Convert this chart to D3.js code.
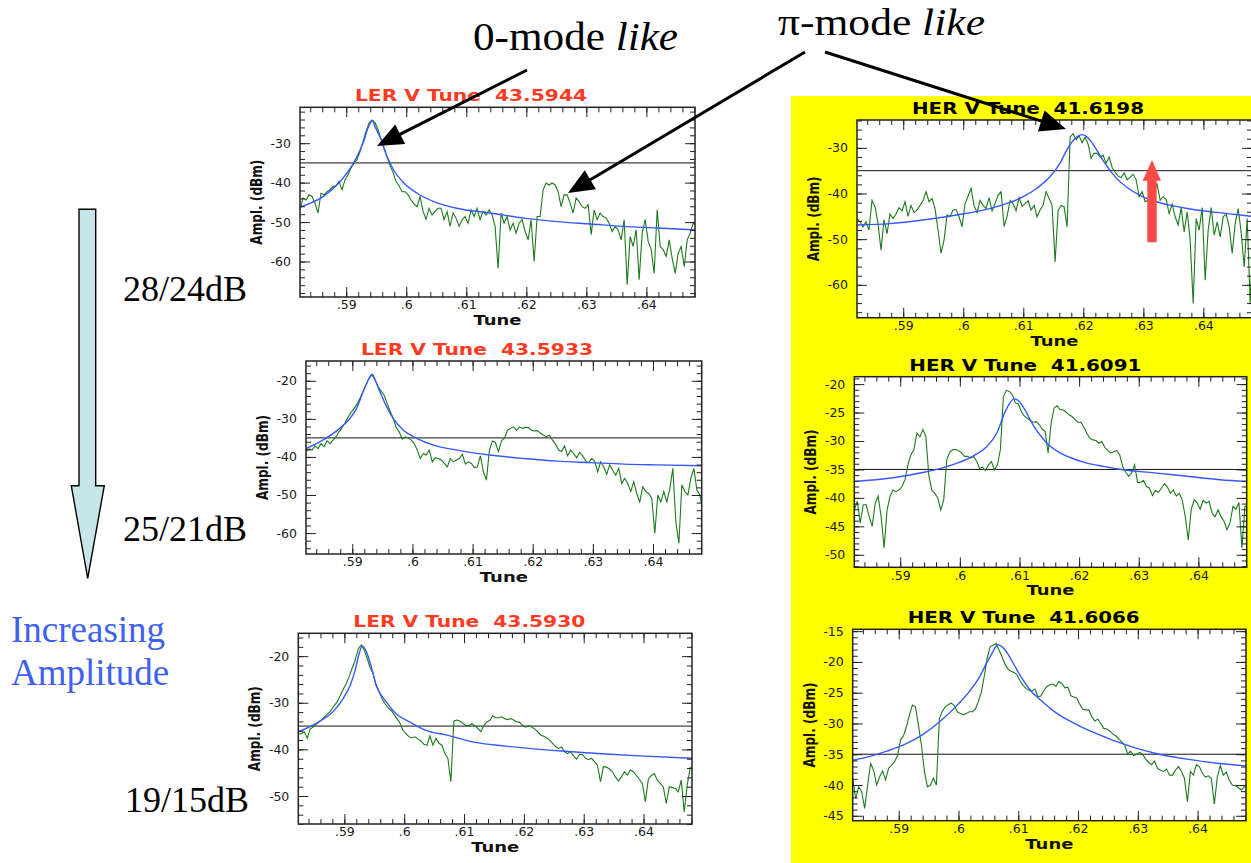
<!DOCTYPE html>
<html>
<head>
<meta charset="utf-8">
<script src="https://cdn.jsdelivr.net/npm/d3@7"></script>
<style>
  html, body { margin: 0; padding: 0; background: #fff; }
  svg { display: block; }
</style>
</head>
<body>
<svg id="fig" width="1251" height="863"></svg>
<script>
// ---- Spectrum analyser sweep: tune grid shared by every trace ----
const tuneStart = 0.5823;
const tuneStep = 0.0005;
const tracePoints = 133;
const tuneDomain = [0.5823, 0.6481];
const refLevel = -35;

// ---- Measured spectra (dBm), LER, three excitation levels ----
const ler1Db = [
  -46.9,-43.9,-44.4,-43.1,-43.5,-45.2,-47.7,-42.7,-43.1,-42.3,
  -41.8,-41.0,-40.8,-39.7,-41.8,-39.3,-38.0,-36.3,-35.1,-34.2,
  -32.1,-29.6,-27.0,-24.9,-24.1,-24.8,-26.6,-29.0,-31.3,-33.4,
  -35.7,-37.4,-39.7,-40.8,-42.3,-42.3,-43.1,-44.4,-45.4,-46.1,
  -43.5,-47.3,-49.3,-46.5,-48.2,-47.3,-46.5,-46.5,-49.4,-47.3,
  -51.1,-47.7,-49.0,-51.1,-49.4,-48.6,-50.3,-46.9,-48.6,-46.5,
  -49.4,-47.3,-48.2,-46.9,-48.2,-51.1,-61.7,-47.7,-50.3,-48.6,
  -52.0,-50.3,-52.8,-50.3,-49.4,-52.4,-54.5,-49.4,-60.0,-48.6,
  -48.6,-41.8,-40.1,-40.6,-40.1,-40.6,-42.3,-46.1,-43.1,-43.1,
  -45.2,-47.7,-43.9,-44.8,-46.1,-46.5,-45.6,-53.2,-46.9,-49.4,
  -47.7,-48.6,-49.0,-50.3,-52.4,-51.1,-52.0,-54.5,-49.4,-65.9,
  -53.7,-56.2,-52.0,-64.6,-52.8,-49.4,-54.9,-57.0,-63.0,-46.9,
  -56.2,-57.0,-58.7,-54.5,-59.2,-63.0,-57.9,-56.2,-61.3,-54.5,
  -52.8,-50.3,-50.7
];
const ler2Db = [
  -38.6,-37.9,-38.2,-37.1,-37.8,-36.5,-37.3,-35.8,-36.5,-35.6,
  -34.7,-33.4,-32.3,-31.0,-29.5,-28.3,-27.3,-26.0,-24.5,-22.7,
  -21.0,-19.2,-18.5,-19.8,-21.6,-22.7,-23.8,-26.0,-28.0,-29.9,
  -32.3,-33.4,-35.3,-34.7,-35.0,-35.6,-36.5,-38.2,-40.4,-39.1,
  -39.5,-38.2,-41.3,-40.2,-40.4,-40.8,-41.7,-42.6,-40.4,-41.3,
  -40.8,-40.4,-39.3,-41.9,-41.3,-41.7,-42.8,-42.6,-39.7,-43.9,
  -46.1,-38.2,-35.8,-36.2,-38.6,-35.8,-35.1,-33.0,-32.5,-32.1,
  -33.0,-32.1,-32.5,-32.2,-32.3,-33.0,-33.2,-33.1,-33.8,-34.3,
  -34.7,-34.3,-35.6,-36.7,-38.2,-38.6,-37.1,-39.7,-38.2,-39.1,
  -40.2,-38.8,-39.7,-41.1,-41.5,-40.4,-41.1,-43.9,-41.3,-42.6,
  -44.6,-42.1,-43.5,-44.8,-43.0,-47.0,-45.6,-47.0,-49.1,-46.5,
  -49.6,-51.8,-47.8,-49.1,-49.6,-50.9,-60.1,-50.0,-51.8,-49.1,
  -51.8,-48.3,-43.0,-57.0,-62.7,-47.4,-49.1,-50.0,-45.6,-43.0,
  -48.7,-50.0,-54.4
];
const ler3Db = [
  -36.8,-36.6,-36.2,-37.6,-35.6,-35.2,-34.6,-34.1,-33.5,-32.9,
  -32.3,-31.6,-30.6,-29.8,-28.5,-27.1,-25.9,-24.4,-22.6,-20.9,
  -18.5,-17.6,-18.7,-20.4,-22.5,-23.7,-26.2,-27.5,-29.2,-30.2,
  -31.1,-31.6,-32.5,-33.4,-34.4,-35.9,-36.6,-37.3,-37.5,-37.3,
  -37.8,-38.2,-38.9,-39.1,-37.1,-39.1,-37.6,-38.7,-39.1,-40.9,
  -41.9,-46.9,-33.9,-33.7,-33.9,-34.4,-34.9,-34.9,-34.5,-34.9,
  -35.5,-36.2,-34.9,-34.1,-33.8,-32.8,-33.2,-33.2,-33.0,-33.4,
  -33.6,-33.4,-33.7,-34.1,-34.2,-34.9,-35.2,-34.9,-35.2,-35.6,
  -36.2,-36.9,-37.2,-37.5,-38.0,-38.7,-39.4,-39.8,-39.5,-40.5,
  -40.9,-40.5,-41.4,-42.1,-41.1,-41.1,-41.9,-42.2,-41.9,-42.6,
  -43.4,-46.9,-43.7,-43.8,-44.2,-44.8,-45.9,-46.8,-45.9,-44.8,
  -45.5,-44.4,-44.8,-45.6,-46.4,-47.3,-51.2,-46.4,-45.6,-45.2,
  -46.6,-47.3,-48.0,-51.6,-48.0,-48.2,-48.4,-49.1,-46.6,-53.4,
  -47.6,-43.9,-43.7
];

// ---- Measured spectra (dBm), HER, three excitation levels ----
const her1Db = [
  -45.5,-46.2,-47.3,-46.2,-48.0,-41.5,-42.9,-46.6,-52.4,-45.7,
  -48.8,-44.5,-45.5,-44.5,-43.1,-43.8,-41.8,-45.0,-42.6,-44.2,
  -43.6,-42.6,-41.6,-39.6,-41.8,-41.1,-43.3,-48.0,-53.1,-50.2,
  -44.7,-45.1,-43.6,-43.5,-45.1,-47.3,-42.2,-40.6,-38.9,-42.6,
  -44.2,-41.5,-42.6,-43.3,-40.9,-43.8,-42.2,-40.4,-39.6,-47.2,
  -45.0,-41.5,-42.2,-43.8,-40.9,-42.8,-42.2,-41.6,-43.6,-42.6,
  -45.1,-43.6,-42.6,-39.6,-41.1,-42.6,-55.0,-43.8,-42.6,-42.9,
  -47.3,-27.6,-26.9,-28.2,-27.4,-28.9,-27.7,-29.2,-32.3,-31.2,
  -31.2,-32.0,-31.6,-33.4,-32.0,-34.3,-35.3,-36.2,-36.5,-35.5,
  -37.0,-36.4,-35.8,-37.0,-40.7,-39.6,-41.8,-41.5,-40.0,-39.1,
  -38.0,-41.5,-40.7,-41.3,-44.4,-42.3,-45.1,-46.9,-43.1,-48.4,
  -44.0,-50.2,-64.1,-45.5,-48.0,-43.1,-59.0,-48.0,-43.1,-49.1,
  -46.2,-49.5,-45.1,-44.5,-47.3,-53.1,-46.6,-43.3,-48.6,-56.1,
  -45.5,-64.1,-48.0
];
const her2Db = [
  -42.1,-40.6,-44.4,-41.2,-41.2,-43.3,-45.0,-41.0,-39.7,-43.3,
  -48.8,-42.1,-39.7,-38.6,-38.9,-38.6,-38.0,-36.8,-34.2,-32.4,
  -31.5,-28.6,-29.3,-28.0,-29.2,-36.1,-38.6,-39.2,-40.0,-42.1,
  -40.3,-33.3,-32.0,-31.5,-31.5,-31.7,-32.1,-32.7,-32.7,-33.0,
  -32.7,-33.5,-34.8,-34.6,-35.2,-34.2,-33.6,-35.1,-34.2,-31.5,
  -22.2,-21.1,-21.3,-21.9,-23.3,-23.5,-24.8,-25.6,-26.0,-26.4,
  -26.7,-26.6,-27.1,-27.9,-28.3,-32.1,-26.9,-24.2,-23.8,-24.5,
  -24.5,-24.9,-25.4,-25.7,-26.2,-26.7,-26.7,-27.6,-28.7,-29.5,
  -29.8,-29.9,-30.4,-30.1,-31.1,-31.7,-32.1,-31.9,-31.7,-32.4,
  -34.5,-35.5,-36.2,-35.6,-34.2,-37.3,-37.3,-36.9,-38.0,-38.3,
  -39.6,-38.7,-39.0,-38.3,-37.5,-38.1,-39.2,-38.6,-39.7,-39.2,
  -40.4,-43.3,-47.4,-42.0,-40.3,-40.9,-42.0,-40.4,-40.9,-40.6,
  -42.7,-43.3,-42.1,-43.3,-44.1,-45.6,-44.4,-41.5,-42.0,-40.8,
  -48.8,-41.5,-41.5
];
const her3Db = [
  -38.9,-42.2,-40.3,-41.1,-43.8,-40.0,-36.5,-37.6,-40.0,-38.7,
  -37.7,-39.2,-37.3,-36.8,-36.2,-35.2,-32.7,-32.0,-30.5,-28.6,
  -27.0,-27.3,-30.3,-33.5,-37.8,-40.3,-40.0,-38.9,-40.0,-29.2,
  -28.0,-27.3,-26.9,-26.7,-27.1,-28.1,-28.4,-28.6,-28.4,-28.1,
  -28.1,-27.7,-26.5,-25.0,-22.4,-19.4,-17.5,-17.3,-17.0,-18.1,
  -19.2,-20.4,-21.2,-21.5,-21.7,-22.1,-23.1,-23.8,-24.3,-24.6,
  -24.7,-24.4,-25.7,-25.5,-24.6,-24.0,-23.7,-23.6,-24.0,-23.2,
  -23.5,-24.2,-24.1,-25.5,-25.7,-25.9,-26.9,-27.7,-27.8,-27.8,
  -28.9,-29.6,-29.3,-30.0,-30.8,-30.9,-31.2,-31.7,-32.0,-32.5,
  -33.0,-33.5,-35.0,-34.5,-35.2,-35.0,-34.7,-35.0,-35.8,-36.3,
  -36.7,-36.1,-37.3,-37.6,-37.8,-37.4,-38.4,-38.4,-37.6,-37.0,
  -37.8,-38.9,-42.7,-37.8,-38.4,-36.7,-37.0,-38.1,-38.7,-38.5,
  -38.9,-43.1,-38.7,-36.8,-38.4,-37.9,-39.2,-40.0,-40.1,-40.4,
  -40.8,-40.3,-40.3
];

// ---- Resonance fits (tune, dBm) ----
const fit1Tune = [0.5823,0.5862,0.5890,0.5907,0.5918,0.5929,0.5937,0.5944,0.5948,0.5957,0.5968,0.5979,0.5996,0.6018,0.6046,0.6084,0.6140,0.6196,0.6251,0.6307,0.6362,0.6418,0.6481];
const fit1Db   = [-46.2,-43.5,-39.7,-36.3,-33.4,-29.6,-25.8,-24.4,-25.8,-28.7,-33.4,-36.8,-40.1,-42.7,-44.8,-46.5,-47.7,-49.0,-49.9,-50.5,-51.1,-51.5,-52.0];
const fit2Tune = [0.5823,0.5851,0.5879,0.5896,0.5907,0.5918,0.5928,0.5933,0.5938,0.5946,0.5957,0.5968,0.5985,0.6007,0.6035,0.6074,0.6129,0.6185,0.6241,0.6296,0.6352,0.6408,0.6481];
const fit2Db   = [-37.8,-35.6,-32.5,-29.9,-27.3,-22.9,-19.4,-18.3,-19.8,-22.9,-26.8,-29.9,-33.0,-35.1,-36.9,-38.2,-39.5,-40.4,-41.1,-41.5,-41.9,-42.1,-42.3];
const fit3Tune = [0.5823,0.5853,0.5881,0.5898,0.5910,0.5918,0.5924,0.5930,0.5937,0.5945,0.5953,0.5970,0.5986,0.6009,0.6036,0.6070,0.6114,0.6170,0.6226,0.6281,0.6337,0.6393,0.6481];
const fit3Db   = [-36.2,-34.4,-31.9,-29.1,-26.2,-23.0,-19.8,-17.8,-19.1,-22.3,-26.2,-29.8,-32.3,-34.1,-35.9,-36.9,-38.4,-39.3,-40.0,-40.5,-41.0,-41.4,-41.9];
const fit4Tune = [0.5823,0.5878,0.5933,0.5989,0.6044,0.6072,0.6100,0.6122,0.6144,0.6161,0.6172,0.6183,0.6192,0.6198,0.6206,0.6214,0.6222,0.6235,0.6252,0.6274,0.6296,0.6322,0.6350,0.6378,0.6433,0.6481];
const fit4Db   = [-46.9,-46.6,-45.8,-44.7,-43.3,-42.2,-40.7,-38.9,-36.4,-33.4,-30.6,-28.4,-27.4,-27.1,-27.6,-28.8,-30.4,-33.2,-36.2,-38.8,-40.5,-41.8,-42.7,-43.4,-44.3,-45.0];
const fit5Tune = [0.5823,0.5885,0.5940,0.5968,0.5995,0.6023,0.6045,0.6062,0.6075,0.6084,0.6091,0.6100,0.6111,0.6123,0.6137,0.6150,0.6165,0.6185,0.6210,0.6243,0.6271,0.6326,0.6381,0.6436,0.6481];
const fit5Db   = [-37.1,-36.5,-35.5,-34.8,-33.9,-32.6,-31.0,-28.6,-25.1,-23.3,-22.6,-23.1,-24.9,-27.2,-29.3,-30.8,-31.9,-32.9,-33.8,-34.5,-35.0,-35.6,-36.2,-36.8,-37.1];
const fit6Tune = [0.5823,0.5850,0.5880,0.5910,0.5940,0.5970,0.5997,0.6019,0.6036,0.6047,0.6056,0.6066,0.6074,0.6082,0.6092,0.6107,0.6122,0.6135,0.6162,0.6190,0.6217,0.6245,0.6272,0.6300,0.6327,0.6382,0.6437,0.6481];
const fit6Db   = [-36.0,-35.4,-34.5,-33.4,-31.8,-29.6,-27.1,-24.7,-22.3,-20.2,-18.6,-17.2,-17.6,-18.6,-20.3,-22.8,-24.8,-26.0,-28.2,-29.8,-31.1,-32.2,-33.2,-34.1,-34.8,-35.8,-36.5,-36.9];

// ---- Panel titles and side labels ----
const panelTitles = ["LER V Tune  43.5944","LER V Tune  43.5933","LER V Tune  43.5930",
                     "HER V Tune  41.6198","HER V Tune  41.6091","HER V Tune  41.6066"];
const levelLabels = ["28/24dB","25/21dB","19/15dB"];

// ---- Panel layout ----
const panels = [
  { title: panelTitles[0], color: "#ff3a22", trace: ler1Db, fitT: fit1Tune, fitD: fit1Db,
    box: { l: 300,   t: 107.3, r: 695,    b: 297   }, dom: [-69.0, -20.9], major: 10, minor: 2 },
  { title: panelTitles[1], color: "#ff3a22", trace: ler2Db, fitT: fit2Tune, fitD: fit2Db,
    box: { l: 306,   t: 361,   r: 701.7,  b: 554   }, dom: [-65.5, -14.8], major: 10, minor: 2 },
  { title: panelTitles[2], color: "#ff3a22", trace: ler3Db, fitT: fit3Tune, fitD: fit3Db,
    box: { l: 298.3, t: 633.3, r: 692,    b: 824   }, dom: [-56.0, -15.1], major: 10, minor: 2 },
  { title: panelTitles[3], color: "#000",    trace: her1Db, fitT: fit4Tune, fitD: fit4Db,
    box: { l: 857,   t: 120,   r: 1252,   b: 317.7 }, dom: [-67.2, -23.9], major: 10, minor: 2 },
  { title: panelTitles[4], color: "#000",    trace: her2Db, fitT: fit5Tune, fitD: fit5Db,
    box: { l: 854.3, t: 376.7, r: 1246.7, b: 567.3 }, dom: [-52.2, -18.7], major: 5,  minor: 1 },
  { title: panelTitles[5], color: "#000",    trace: her3Db, fitT: fit6Tune, fitD: fit6Db,
    box: { l: 852.7, t: 629.3, r: 1246,   b: 820.7 }, dom: [-45.8, -14.7], major: 5,  minor: 1 }
];

const svg = d3.select("#fig");
const tuneGrid = d3.range(tracePoints).map(i => tuneStart + i * tuneStep);
const sans = "'DejaVu Sans', Verdana, sans-serif";
const serif = "'Liberation Serif', 'Times New Roman', serif";

// Yellow backdrop behind the HER column
svg.append("rect").attr("x", 791).attr("y", 96).attr("width", 460).attr("height", 767)
  .attr("fill", "#ffff00");

const fmtTune = v => v.toFixed(2).replace(/^0/, "").replace(/0$/, "");
const fmtDb = v => String(Math.round(v));

panels.forEach((p, idx) => {
  const { l, t, r, b } = p.box;
  const x = d3.scaleLinear().domain(tuneDomain).range([l, r]);
  const y = d3.scaleLinear().domain(p.dom).range([b, t]);
  const g = svg.append("g");

  g.append("rect").attr("x", l).attr("y", t).attr("width", r - l).attr("height", b - t)
    .attr("fill", "#fff");

  const clipId = "clip" + idx;
  g.append("clipPath").attr("id", clipId).append("rect")
    .attr("x", l).attr("y", t).attr("width", r - l).attr("height", b - t);
  const plot = g.append("g").attr("clip-path", `url(#${clipId})`);

  // reference level
  plot.append("line").attr("x1", l).attr("x2", r).attr("y1", y(refLevel)).attr("y2", y(refLevel))
    .attr("stroke", "#111").attr("stroke-width", 1);

  // measured spectrum
  const traceLine = d3.line().x(d => x(d[0])).y(d => y(d[1]));
  plot.append("path").datum(tuneGrid.map((tu, i) => [tu, p.trace[i]]))
    .attr("d", traceLine).attr("fill", "none").attr("stroke", "#1c7a1c")
    .attr("stroke-width", 1.1).attr("stroke-linejoin", "miter");

  // resonance fit
  const fitLine = d3.line().x(d => x(d[0])).y(d => y(d[1])).curve(d3.curveMonotoneX);
  plot.append("path").datum(p.fitT.map((tu, i) => [tu, p.fitD[i]]))
    .attr("d", fitLine).attr("fill", "none").attr("stroke", "#3559ff").attr("stroke-width", 1.4);

  // tick values
  const xMinor = d3.range(292, 325).map(k => k / 500).filter(v => v >= tuneDomain[0] && v <= tuneDomain[1]);
  const xMajor = d3.range(59, 65).map(k => k / 100);
  const yMinor = d3.range(Math.ceil(p.dom[0] / p.minor), Math.floor(p.dom[1] / p.minor) + 1).map(k => k * p.minor);
  const yMajor = d3.range(Math.ceil(p.dom[0] / p.major), Math.floor(p.dom[1] / p.major) + 1).map(k => k * p.major);

  const styleAxis = sel => {
    sel.select(".domain").remove();
    sel.attr("color", "#222").attr("font-family", sans).attr("font-size", 12.5);
    sel.selectAll("line").attr("stroke-width", 1);
    sel.selectAll("text").attr("fill", "#1a1a1a");
  };

  // bottom
  g.append("g").attr("transform", `translate(0,${b})`)
    .call(d3.axisBottom(x).tickValues(xMinor).tickSize(-5).tickFormat("")).call(styleAxis);
  g.append("g").attr("transform", `translate(0,${b})`)
    .call(d3.axisBottom(x).tickValues(xMajor).tickSize(-10).tickPadding(3.6).tickFormat(fmtTune)).call(styleAxis);
  // top
  g.append("g").attr("transform", `translate(0,${t})`)
    .call(d3.axisTop(x).tickValues(xMinor).tickSize(-5).tickFormat("")).call(styleAxis);
  g.append("g").attr("transform", `translate(0,${t})`)
    .call(d3.axisTop(x).tickValues(xMajor).tickSize(-10).tickFormat("")).call(styleAxis);
  // left
  g.append("g").attr("transform", `translate(${l},0)`)
    .call(d3.axisLeft(y).tickValues(yMinor).tickSize(-5).tickFormat("")).call(styleAxis);
  g.append("g").attr("transform", `translate(${l},0)`)
    .call(d3.axisLeft(y).tickValues(yMajor).tickSize(-10).tickPadding(9).tickFormat(fmtDb)).call(styleAxis);
  // right
  g.append("g").attr("transform", `translate(${r},0)`)
    .call(d3.axisRight(y).tickValues(yMinor).tickSize(-5).tickFormat("")).call(styleAxis);
  g.append("g").attr("transform", `translate(${r},0)`)
    .call(d3.axisRight(y).tickValues(yMajor).tickSize(-10).tickFormat("")).call(styleAxis);

  // frame
  g.append("rect").attr("x", l).attr("y", t).attr("width", r - l).attr("height", b - t)
    .attr("fill", "none").attr("stroke", "#222").attr("stroke-width", 1.5);

  // title
  g.append("text").attr("x", l + 55).attr("y", t - 6)
    .attr("font-family", sans).attr("font-weight", "bold").attr("font-size", 16)
    .attr("fill", p.color).style("white-space", "pre")
    .attr("textLength", 232).attr("lengthAdjust", "spacingAndGlyphs")
    .text(p.title);

  // axis titles
  g.append("text").attr("x", (l + r) / 2).attr("y", b + 28).attr("text-anchor", "middle")
    .attr("font-family", sans).attr("font-weight", "bold").attr("font-size", 14.5).attr("fill", "#111")
    .attr("textLength", 48).attr("lengthAdjust", "spacingAndGlyphs")
    .text("Tune");
  g.append("text").attr("transform", `translate(${l - 38},${(t + b) / 2}) rotate(-90)`)
    .attr("text-anchor", "middle")
    .attr("font-family", sans).attr("font-weight", "bold").attr("font-size", 15).attr("fill", "#111")
    .attr("textLength", 85).attr("lengthAdjust", "spacingAndGlyphs")
    .text("Ampl. (dBm)");
});

// ---- Annotations ----
const ann = svg.append("g");

function pointer(x1, y1, x2, y2, headLen, headHalf) {
  const dx = x2 - x1, dy = y2 - y1, len = Math.hypot(dx, dy);
  const ux = dx / len, uy = dy / len;
  const bx = x2 - ux * headLen, by = y2 - uy * headLen;
  ann.append("line").attr("x1", x1).attr("y1", y1).attr("x2", bx + ux * 2).attr("y2", by + uy * 2)
    .attr("stroke", "#000").attr("stroke-width", 3);
  ann.append("polygon")
    .attr("points", [[x2, y2], [bx - uy * headHalf, by + ux * headHalf], [bx + uy * headHalf, by - ux * headHalf]].join(" "))
    .attr("fill", "#000");
}
pointer(527, 70, 377, 146, 26, 11);
pointer(805, 52, 568, 193, 26, 11);
pointer(825, 52, 1066, 129, 26, 11);

// "0-mode like" / "π-mode like"
const t0 = ann.append("text").attr("x", 473).attr("y", 50)
  .attr("font-family", serif).attr("font-size", 39).attr("fill", "#000")
  .attr("textLength", 205).attr("lengthAdjust", "spacingAndGlyphs");
t0.append("tspan").text("0-mode ");
t0.append("tspan").attr("font-style", "italic").text("like");
const t1 = ann.append("text").attr("x", 778).attr("y", 35)
  .attr("font-family", serif).attr("font-size", 38).attr("fill", "#000")
  .attr("textLength", 207).attr("lengthAdjust", "spacingAndGlyphs");
t1.append("tspan").text("π-mode ");
t1.append("tspan").attr("font-style", "italic").text("like");

// red marker in the HER top panel
ann.append("polygon")
  .attr("points", "1147.3,242.3 1156.7,242.3 1156.7,180.7 1161,180.7 1152,160 1142.7,180.7 1147.3,180.7")
  .attr("fill", "#ff4a4a");

// increasing-amplitude arrow
ann.append("polygon")
  .attr("points", "79,209.3 95.7,209.3 95.7,485.7 104.3,485.7 87.7,578.3 71.3,485.7 79,485.7")
  .attr("fill", "#c6e6e9").attr("stroke", "#000").attr("stroke-width", 1.4);

[301, 541, 812].forEach((yy, i) => {
  ann.append("text").attr("x", i === 2 ? 125 : 123).attr("y", yy)
    .attr("font-family", serif).attr("font-size", 36).attr("fill", "#000")
    .text(levelLabels[i]);
});
ann.append("text").attr("x", 11).attr("y", 642)
  .attr("font-family", serif).attr("font-size", 37).attr("fill", "#4060f0").text("Increasing");
ann.append("text").attr("x", 11).attr("y", 685)
  .attr("font-family", serif).attr("font-size", 37).attr("fill", "#4060f0").text("Amplitude");
</script>
</body>
</html>
